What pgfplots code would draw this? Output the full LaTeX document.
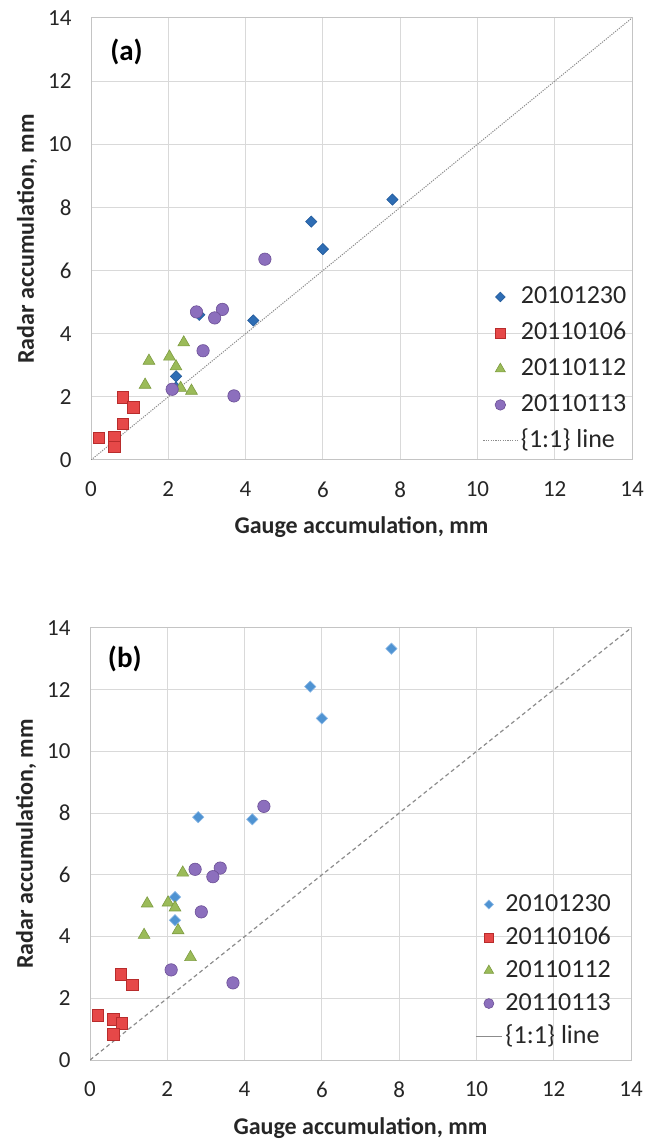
\documentclass[border=0pt]{standalone}
\usepackage{fontspec}
\setmainfont{Carlito}
\usepackage{pgfplots}
\pgfplotsset{compat=1.18}
\definecolor{txt}{HTML}{262626}
\definecolor{gridc}{HTML}{D9D9D9}
\definecolor{framec}{HTML}{C4C4C4}
\definecolor{bluea}{HTML}{2E6DB4}
\definecolor{blueaedge}{HTML}{255C9C}
\definecolor{blueb}{HTML}{4F93D2}
\definecolor{bluebedge}{HTML}{8DB9E6}
\definecolor{redf}{HTML}{E64848}
\definecolor{rede}{HTML}{B82C2C}
\definecolor{greenf}{HTML}{9BBB59}
\definecolor{greene}{HTML}{7E9C42}
\definecolor{purplef}{HTML}{8C6FBD}
\definecolor{purplee}{HTML}{6C5096}
\definecolor{onec}{HTML}{8C8C8C}

\pgfplotsset{
 myaxis/.style={
  scale only axis, width=541pt,
  xmin=0,xmax=14,ymin=0,ymax=14,
  xtick={0,2,...,14}, ytick={0,2,...,14},
  grid=major, major grid style={gridc, line width=1pt},
  axis line style={framec, line width=1pt},
  major tick length=0pt,
  tick label style={font=\fontsize{23}{27}\selectfont, text=txt},
  /pgf/number format/assume math mode=true,
  xticklabel style={yshift=-18pt},
  yticklabel style={xshift=-16pt},
  label style={font=\bfseries\fontsize{24}{28}\selectfont, text=txt},
  xlabel={Gauge accumulation, mm},
  ylabel={Radar accumulation, mm},
  xlabel style={at={([yshift=-74pt]axis description cs:0.5,0)}, anchor=base},
  ylabel style={at={([xshift=-57pt]axis description cs:0,0.5)}, anchor=base},
  legend style={draw=none, fill=none, inner sep=0pt, outer sep=0pt,
    font=\fontsize{26}{30}\selectfont, text=txt, column sep=3pt,
    nodes={inner sep=0pt, text height=16pt, text depth=2pt}},
  legend cell align=left,
 },
 reds/.style={only marks, mark=square*, mark size=5.8pt, mark options={fill=redf, draw=rede, line width=0.6pt}},
 greens/.style={only marks, mark=triangle*, mark size=6.8pt, mark options={fill=greenf, draw=greene, line width=0.6pt}},
 purples/.style={only marks, mark=*, mark size=6.2pt, mark options={fill=purplef, draw=purplee, line width=0.6pt}},
}

\begin{document}
\begin{tikzpicture}[x=1pt,y=1pt]
\useasboundingbox (0,0) rectangle (649,1141);
% ---------------- (a)
\begin{axis}[myaxis, at={(91pt,681pt)}, anchor=south west, height=442pt,
  legend style={at={(axis cs:10.14,5.45)}, anchor=north west, /tikz/row sep=18pt},
  legend image code/.code={\draw[mark repeat=2,mark phase=2, every mark/.append style={scale=0.85}] plot coordinates {(0pt,0pt) (17pt,0pt) (34pt,0pt)};}]
\addplot[onec, dash pattern=on 1.2pt off 1.2pt, line width=1pt, forget plot] coordinates {(0,0) (14,14)};
\addplot[only marks, mark=square*, mark size=4pt, mark options={rotate=45, fill=bluea, draw=blueaedge, line width=0.6pt}]
 coordinates {(7.8,8.25) (5.7,7.55) (6.0,6.68) (4.2,4.42) (2.8,4.6) (2.2,2.65) (2.2,2.3)};
\addlegendentry{20101230}
\addplot[reds] coordinates {(0.2,0.7) (0.6,0.72) (0.6,0.42) (0.82,1.15) (0.82,1.99) (1.1,1.67)};
\addlegendentry{20110106}
\addplot[greens] coordinates {(1.5,3.14) (1.4,2.38) (2.03,3.27) (2.2,2.96) (2.4,3.72) (2.32,2.28) (2.6,2.19)};
\addlegendentry{20110112}
\addplot[purples] coordinates {(4.5,6.36) (2.73,4.69) (3.4,4.77) (3.2,4.5) (2.9,3.46) (2.1,2.24) (3.7,2.03)};
\addlegendentry{20110113}
\addlegendimage{onec, dash pattern=on 1.2pt off 1.2pt, line width=1pt}
\addlegendentry{\{1:1\} line}
\node[font=\bfseries\fontsize{29}{34}\selectfont, text=black] at (axis cs:0.92,12.94) {(a)};
\end{axis}
% ---------------- (b)
\begin{axis}[myaxis, at={(90pt,81pt)}, anchor=south west, height=432pt,
  legend style={at={(axis cs:9.97,5.33)}, anchor=north west, /tikz/row sep=15pt},
  legend image code/.code={\draw[mark repeat=2,mark phase=2, every mark/.append style={scale=0.8}] plot coordinates {(0pt,0pt) (13pt,0pt) (26pt,0pt)};}]
\addplot[onec, dash pattern=on 4pt off 3pt, line width=1.2pt, forget plot] coordinates {(0,0) (14,14)};
\addplot[only marks, mark=square*, mark size=4pt, mark options={rotate=45, fill=blueb, draw=bluebedge, line width=0.6pt}]
 coordinates {(7.8,13.33) (5.7,12.1) (6.0,11.07) (2.8,7.87) (4.2,7.8) (2.2,5.28) (2.2,4.53)};
\addlegendentry{20101230}
\addplot[reds] coordinates {(0.2,1.45) (0.6,1.32) (0.82,1.18) (0.6,0.84) (0.8,2.77) (1.1,2.44)};
\addlegendentry{20110106}
\addplot[greens] coordinates {(2.4,6.07) (1.48,5.07) (2.02,5.1) (2.2,4.94) (1.4,4.05) (2.28,4.2) (2.6,3.33)};
\addlegendentry{20110112}
\addplot[purples] coordinates {(4.5,8.22) (2.72,6.18) (3.37,6.22) (3.18,5.94) (2.88,4.8) (2.1,2.92) (3.7,2.5)};
\addlegendentry{20110113}
\addlegendimage{onec, solid, line width=1.2pt}
\addlegendentry{\{1:1\} line}
\node[font=\bfseries\fontsize{29}{34}\selectfont, text=black] at (axis cs:0.9,12.99) {(b)};
\end{axis}
\end{tikzpicture}
\end{document}
